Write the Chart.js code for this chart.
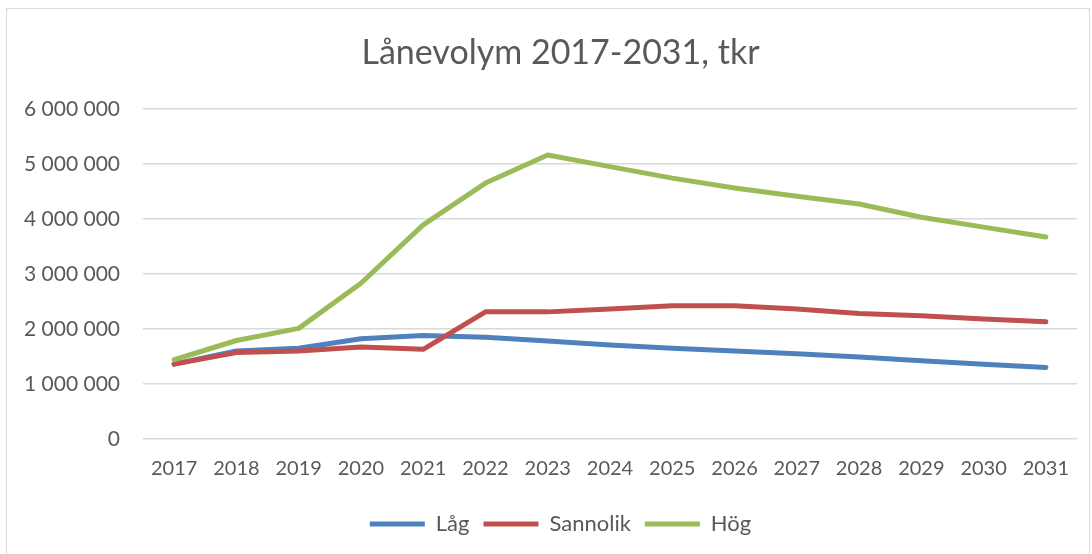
<!DOCTYPE html>
<html lang="sv">
<head>
    <meta charset="UTF-8">
    <title>Lånevolym 2017-2031</title>
    <style>
        body {
            margin: 0;
            background: #fff;
            font-family: Lato, sans-serif;
        }
        .frame {
            position: absolute;
            left: 6px;
            top: 8px;
            width: 1082px;
            height: 560px;
            border: 1.5px solid #d9d9d9;
        }
        .wrap {
            position: absolute;
            left: 0;
            top: 0;
            width: 1092px;
            height: 554px;
        }
    </style>
    <script src="https://cdn.jsdelivr.net/npm/chart.js"></script>
</head>
<body>

<div class="frame"></div>
<div class="wrap"><canvas id="loanChart" width="1092" height="554"></canvas></div>

<script>
    // Values, tkr
    const years = ['2017', '2018', '2019', '2020', '2021', '2022', '2023', '2024',
                   '2025', '2026', '2027', '2028', '2029', '2030', '2031'];
    const lag = [1360000, 1600000, 1650000, 1820000, 1880000, 1850000, 1780000, 1710000,
                 1650000, 1600000, 1550000, 1490000, 1420000, 1360000, 1300000];
    const sannolik = [1360000, 1570000, 1600000, 1670000, 1630000, 2310000, 2310000, 2360000,
                      2420000, 2420000, 2360000, 2280000, 2240000, 2180000, 2130000];
    const hog = [1440000, 1790000, 2010000, 2830000, 3890000, 4650000, 5160000, 4950000,
                 4740000, 4560000, 4410000, 4270000, 4030000, 3850000, 3670000];

    const textColor = '#595959';
    const gridColor = '#d9d9d9';

    function spaced(v) {
        return String(v).replace(/\B(?=(\d{3})+(?!\d))/g, ' ');
    }

    function series(label, data, color, order) {
        return {
            label: label,
            data: data,
            borderColor: color,
            backgroundColor: color,
            borderWidth: 5,
            borderCapStyle: 'round',
            borderJoinStyle: 'round',
            pointRadius: 0,
            tension: 0,
            order: order
        };
    }

    // title and legend sit a bit right of the canvas centre in the original
    const shiftBlocks = {
        id: 'shiftBlocks',
        afterLayout(chart) {
            [chart.titleBlock, chart.legend].forEach(b => {
                if (b) { b.left += 22; b.right += 22; }
            });
        }
    };

    const ctx = document.getElementById('loanChart').getContext('2d');
    const loanChart = new Chart(ctx, {
        type: 'line',
        data: {
            labels: years,
            datasets: [
                series('Låg', lag, '#4f81bd', 3),
                series('Sannolik', sannolik, '#c0504d', 2),
                series('Hög', hog, '#9bbb59', 1)
            ]
        },
        plugins: [shiftBlocks],
        options: {
            responsive: false,
            animation: false,
            layout: {
                padding: { left: 0, right: 15, top: 0, bottom: 9 }
            },
            plugins: {
                title: {
                    display: true,
                    text: 'Lånevolym 2017-2031, tkr',
                    color: textColor,
                    font: { family: 'Lato', size: 34, weight: 'normal' },
                    padding: { top: 33, bottom: 35 }
                },
                legend: {
                    position: 'bottom',
                    labels: {
                        usePointStyle: true,
                        pointStyle: 'line',
                        pointStyleWidth: 55,
                        padding: 14,
                        color: textColor,
                        font: { family: 'Lato', size: 22 },
                        sort: (a, b) => a.datasetIndex - b.datasetIndex
                    }
                },
                tooltip: { enabled: false }
            },
            scales: {
                x: {
                    offset: true,
                    grid: { display: false, drawTicks: false },
                    border: { display: false },
                    ticks: {
                        color: textColor,
                        font: { family: 'Lato', size: 20 },
                        padding: 18,
                        maxRotation: 0
                    }
                },
                y: {
                    min: 0,
                    max: 6000000,
                    afterFit: (scale) => { scale.width = 143; },
                    grid: { color: gridColor, lineWidth: 1.5, drawTicks: false },
                    border: { display: false },
                    ticks: {
                        stepSize: 1000000,
                        color: textColor,
                        font: { family: 'Lato', size: 21 },
                        padding: 23,
                        callback: (v) => spaced(v)
                    }
                }
            }
        }
    });
</script>

</body>
</html>
